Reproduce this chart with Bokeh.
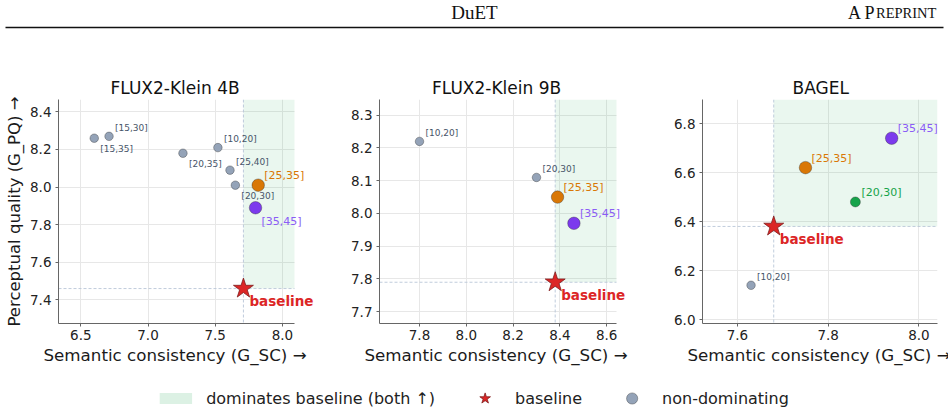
from bokeh.plotting import figure
from bokeh.models import (ColumnDataSource, Range1d, FixedTicker, BoxAnnotation, Span,
                          Label, Legend, LegendItem, PrintfTickFormatter, Title, Grid)
from bokeh.layouts import column, row
from bokeh.embed import file_html
from bokeh.resources import INLINE

# ---------------- data ----------------
panel_titles = ["FLUX2-Klein 4B", "FLUX2-Klein 9B", "BAGEL"]

k4_windows = ["[15,35]", "[15,30]", "[20,35]", "[10,20]", "[25,40]", "[20,30]", "[25,35]", "[35,45]"]
k4_sc = [6.60, 6.71, 7.26, 7.52, 7.61, 7.65, 7.82, 7.80]
k4_pq = [8.26, 8.27, 8.18, 8.21, 8.09, 8.01, 8.01, 7.89]
k4_base_sc = 7.71
k4_base_pq = 7.46

k9_windows = ["[10,20]", "[20,30]", "[25,35]", "[35,45]"]
k9_sc = [7.80, 8.30, 8.39, 8.46]
k9_pq = [8.22, 8.11, 8.05, 7.97]
k9_base_sc = 8.38
k9_base_pq = 7.79

bg_windows = ["[10,20]", "[25,35]", "[20,30]", "[35,45]"]
bg_sc = [7.63, 7.75, 7.86, 7.94]
bg_pq = [6.14, 6.62, 6.48, 6.74]
bg_base_sc = 7.68
bg_base_pq = 6.38

k4_xticks = [6.5, 7.0, 7.5, 8.0]
k4_yticks = [7.4, 7.6, 7.8, 8.0, 8.2, 8.4]
k9_xticks = [7.8, 8.0, 8.2, 8.4, 8.6]
k9_yticks = [7.7, 7.8, 7.9, 8.0, 8.1, 8.2, 8.3]
bg_xticks = [7.6, 7.8, 8.0]
bg_yticks = [6.0, 6.2, 6.4, 6.6, 6.8]

x_label = "Semantic consistency (G_SC) \u2192"
y_label = "Perceptual quality (G_PQ) \u2192"
legend_labels = ["dominates baseline (both \u2191)", "baseline", "non-dominating"]

# ---------------- style ----------------
FONT = "DejaVu Sans"
GRAY_FILL = "#94a3b8"
GRAY_TEXT = "#475569"
RED = "#dc2626"
DOM_POINT = {"[25,35]": "#d97706", "[35,45]": "#7c3aed", "[20,30]": "#16a34a"}
DOM_TEXT = {"[25,35]": "#d97706", "[35,45]": "#8b5cf6", "[20,30]": "#16a34a"}
DOM_SIZE = {"[25,35]": 12.5, "[35,45]": 12.5, "[20,30]": 10}

k4_sides = ["below", "above", "below", "above", "above", "below", "above", "below"]
k9_sides = ["above"] * 4
bg_sides = ["above"] * 4

HAS_CROSS = "cross_bounds" in Grid.properties()


def make_panel(title, windows, sc, pq, base_sc, base_pq, xr, yr, xticks, yticks,
               sides, width, border_left, border_right, extra, title_off, ylabel):
    # the frame is widened by `extra` px on the right so that point labels are not
    # clipped; axis, grid and shading stop at the visible end xr[1]
    frame_w = width - border_left - border_right
    px = (xr[1] - xr[0]) / frame_w
    x_end = xr[1] + extra * px
    p = figure(width=width, height=330, x_range=Range1d(xr[0], x_end),
               y_range=Range1d(*yr), output_backend="svg", toolbar_location=None,
               min_border_left=border_left, min_border_right=border_right - extra,
               min_border_top=59, min_border_bottom=47)
    p.outline_line_color = None
    p.background_fill_color = "white"
    p.border_fill_color = "white"
    p.title.text = title
    p.title.align = "left"
    p.title.offset = title_off
    p.title.text_font = FONT
    p.title.text_font_size = "17px"
    p.title.text_font_style = "normal"
    p.title.text_color = "#111111"
    p.title.standoff = 3

    p.xaxis.ticker = FixedTicker(ticks=xticks)
    p.yaxis.ticker = FixedTicker(ticks=yticks)
    p.xaxis.bounds = (xr[0], xr[1])
    for ax in (p.xaxis, p.yaxis):
        ax.formatter = PrintfTickFormatter(format="%.1f")
        ax.axis_line_color = "#666666"
        ax.axis_line_width = 1
        ax.major_tick_line_color = "#666666"
        ax.major_tick_out = 3
        ax.major_tick_in = 0
        ax.minor_tick_line_color = None
        ax.major_label_text_font = FONT
        ax.major_label_text_font_size = "13.5px"
        ax.major_label_text_color = "#222222"
        ax.axis_label_text_font = FONT
        ax.axis_label_text_font_size = "16.5px"
        ax.axis_label_text_font_style = "normal"
        ax.axis_label_text_color = "#1a1a1a"
    p.xaxis.major_label_standoff = 3
    p.yaxis.major_label_standoff = 4
    if ylabel:
        p.yaxis.axis_label = y_label
        p.yaxis.axis_label_standoff = 3
    p.add_layout(Title(text=x_label, align="left", offset=-15, text_font=FONT,
                       text_font_size="16.7px", text_font_style="normal",
                       text_color="#1a1a1a", standoff=0), "below")
    p.grid.grid_line_color = "#e7e7e7"
    p.grid.grid_line_width = 1
    if HAS_CROSS:
        p.ygrid.cross_bounds = (xr[0], xr[1])

    p.add_layout(BoxAnnotation(left=base_sc, right=xr[1], bottom=base_pq,
                               fill_color="#16a34a", fill_alpha=0.09, line_alpha=0,
                               level="underlay"))
    p.add_layout(Span(location=base_sc, dimension="height", line_color="#b9c6d8",
                      line_dash="3 2", line_width=0.9, level="underlay"))
    p.segment(x0=[xr[0]], x1=[xr[1]], y0=[base_pq], y1=[base_pq], line_color="#b9c6d8",
              line_dash="3 2", line_width=0.9)

    xs, ys, cols, sizes = [], [], [], []
    for w, x, y, side in zip(windows, sc, pq, sides):
        dom = x >= base_sc and y >= base_pq
        xs.append(x)
        ys.append(y)
        if dom:
            cols.append(DOM_POINT[w])
            sizes.append(DOM_SIZE[w])
            tcol, tsize = DOM_TEXT[w], "11px"
            yoff = 9.5 if side == "above" else -13.5
        else:
            cols.append(GRAY_FILL)
            sizes.append(8.5)
            tcol, tsize = GRAY_TEXT, "9px"
            yoff = 8.5 if side == "above" else -10.8
        p.add_layout(Label(x=x, y=y, text=w, text_color=tcol, text_font_size=tsize,
                           text_font=FONT, x_offset=6, y_offset=yoff,
                           text_baseline="middle", text_align="left"))
    src = ColumnDataSource(dict(x=xs, y=ys, c=cols, s=sizes))
    p.scatter("x", "y", source=src, size="s", fill_color="c", line_color="#333333",
              line_alpha=0.55, line_width=0.7)

    bsrc = ColumnDataSource(dict(x=[base_sc], y=[base_pq]))
    p.scatter("x", "y", source=bsrc, marker="star", size=21, fill_color=RED,
              line_color="#7f1d1d", line_width=0.8)
    p.add_layout(Label(x=base_sc, y=base_pq, text="baseline", text_color=RED,
                       text_font_size="13.5px", text_font=FONT, text_font_style="bold",
                       x_offset=6, y_offset=-12.5, text_baseline="middle",
                       text_align="left"))
    return p


p1 = make_panel(panel_titles[0], k4_windows, k4_sc, k4_pq, k4_base_sc, k4_base_pq,
                (6.334, 8.09), (7.274, 8.466), k4_xticks, k4_yticks, k4_sides,
                320, 58, 26, 22, 52, True)
p2 = make_panel(panel_titles[1], k9_windows, k9_sc, k9_pq, k9_base_sc, k9_base_pq,
                (7.629, 8.642), (7.664, 8.348), k9_xticks, k9_yticks, k9_sides,
                320, 59, 24, 14, 52.5, False)
p3 = make_panel(panel_titles[2], bg_windows, bg_sc, bg_pq, bg_base_sc, bg_base_pq,
                (7.523, 8.041), (5.984, 6.898), bg_xticks, bg_yticks, bg_sides,
                308, 62, 11, 0, 90, False)

# ---------------- header ----------------
hdr = figure(width=948, height=40, x_range=Range1d(0, 948), y_range=Range1d(40, 0),
             output_backend="svg", toolbar_location=None, title_location=None,
             min_border=0)
hdr.axis.visible = False
hdr.grid.visible = False
hdr.outline_line_color = None
SERIF = "Liberation Serif"
HY = 12
hdr.add_layout(Label(x=474, y=HY, text="DuET", text_font=SERIF, text_font_size="19px",
                     text_align="center", text_baseline="alphabetic", text_color="#111"))
hdr.add_layout(Label(x=875, y=HY, text="A P", text_font=SERIF, text_font_size="18px",
                     text_align="right", text_baseline="alphabetic", text_color="#111"))
hdr.add_layout(Label(x=875.5, y=HY, text="REPRINT", text_font=SERIF, text_font_size="14.5px",
                     text_align="left", text_baseline="alphabetic", text_color="#111"))
hdr.add_layout(BoxAnnotation(left=5, right=943, top=26.3, bottom=27.7, fill_color="#111111",
                             fill_alpha=1, line_alpha=0))

# ---------------- legend ----------------
lg = figure(width=948, height=42, x_range=Range1d(0, 1), y_range=Range1d(0, 1),
            output_backend="svg", toolbar_location=None, title_location=None,
            min_border_left=0, min_border_right=0, min_border_top=14, min_border_bottom=0)
lg.axis.visible = False
lg.grid.visible = False
lg.outline_line_color = None
# legend proxies: placed outside the visible range so only their legend keys show
r_patch = lg.line(x=[-3, -2], y=[-3, -3], line_color="#dcf1e4", line_width=11,
                  line_cap="butt")
r_star = lg.scatter(x=[-3], y=[-3], marker="star", fill_color=RED, line_color="#7f1d1d",
                    line_width=0.8)
r_gray = lg.scatter(x=[-3], y=[-3], marker="circle", fill_color=GRAY_FILL,
                    line_color="#333333", line_alpha=0.55, line_width=0.7)
legend = Legend(items=[LegendItem(label=legend_labels[0], renderers=[r_patch]),
                       LegendItem(label=legend_labels[1], renderers=[r_star]),
                       LegendItem(label=legend_labels[2], renderers=[r_gray])],
                orientation="horizontal", location="center", glyph_width=33,
                glyph_height=28, label_standoff=14, spacing=33, padding=0, margin=0,
                border_line_color=None, background_fill_alpha=0,
                label_text_font=FONT, label_text_font_size="16px",
                label_text_color="#222222")
lg.add_layout(legend)

layout = column(hdr, row(p1, p2, p3), lg)
open("out.html", "w").write(file_html(layout, INLINE))
